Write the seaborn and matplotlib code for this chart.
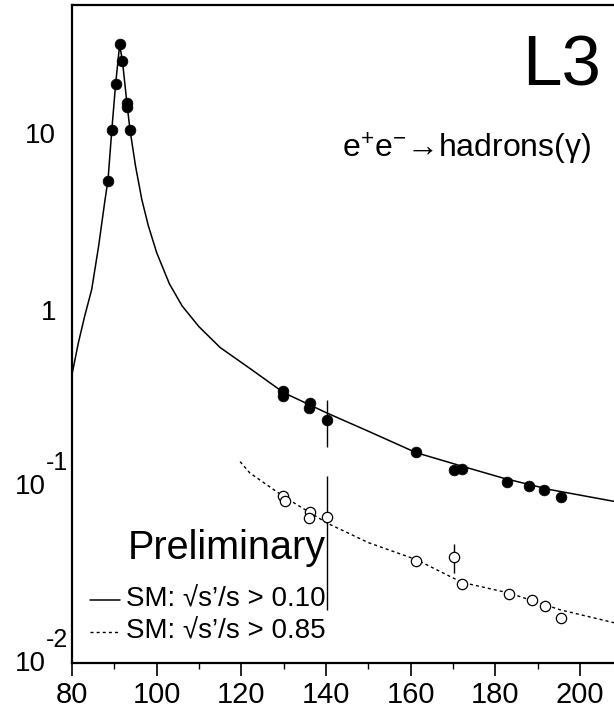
import numpy as np
import pandas as pd
import matplotlib
matplotlib.use("Agg")
import matplotlib.pyplot as plt
import matplotlib.transforms as mtrans
import seaborn as sns

# ---------------- data ----------------
# Z-peak and high-energy measurements, sqrt(s')/s > 0.10 (filled)
E_all = [88.5, 89.4, 90.3, 91.3, 91.9, 93.0, 93.0, 93.7,
         129.9, 129.9, 136.1, 135.9, 140.2, 161.3, 170.2, 172.1, 182.7, 187.9, 191.5, 195.5]
sig_all = [5.37, 10.4, 18.9, 31.9, 25.7, 14.8, 14.0, 10.4,
           0.345, 0.326, 0.296, 0.278, 0.238, 0.157, 0.123, 0.125, 0.106, 0.100, 0.0958, 0.0871]
err_all_x = [140.2, 170.2]
err_all_lo = [0.168, 0.119]
err_all_hi = [0.309, 0.127]

# sqrt(s')/s > 0.85 (open)
E_hi = [129.9, 130.2, 136.1, 135.9, 140.2, 161.3, 170.2, 172.1, 183.2, 188.6, 191.8, 195.5]
sig_hi = [0.0878, 0.0822, 0.0713, 0.0662, 0.0671, 0.0377, 0.0397, 0.0281, 0.0247, 0.0226, 0.0211, 0.0180]
err_hi_x = [140.2, 170.2]
err_hi_lo = [0.020, 0.0324]
err_hi_hi = [0.114, 0.0470]

# Standard Model curves
sm_all_E = [80.0, 81.5, 83.0, 84.65, 86.3, 87.8, 88.5, 89.4, 90.3, 91.25, 91.9, 93.0, 93.7,
            95.0, 96.5, 98.0, 100.0, 103.0, 106.0, 110.0, 115.0, 122.0, 130.0, 140.2,
            150.0, 161.3, 172.1, 182.0, 192.9, 208.0]
sm_all_sig = [0.43, 0.648, 0.92, 1.30, 2.3, 4.19, 5.4, 10.4, 18.9, 31.5, 25.7, 14.5, 10.4,
              6.5, 4.19, 3.0, 2.1, 1.4, 1.05, 0.80, 0.61, 0.465, 0.339, 0.260,
              0.205, 0.155, 0.130, 0.111, 0.0958, 0.0822]
sm_hi_E = [119.7, 122.0, 129.9, 140.2, 150.0, 161.3, 172.1, 183.2, 195.3, 208.0]
sm_hi_sig = [0.138, 0.119, 0.0878, 0.062, 0.048, 0.0385, 0.0286, 0.0249, 0.0200, 0.0169]

ytick_vals = [0.01, 0.1, 1, 10]
ytick_base = ["10", "10", "1", "10"]
ytick_exp = ["-2", "-1", "", ""]
xtick_vals = [80, 100, 120, 140, 160, 180, 200]

# ---------------- style ----------------
sns.set_style("white")
plt.rcParams["font.family"] = ["Liberation Sans", "DejaVu Sans"]
plt.rcParams["mathtext.fontset"] = "custom"
plt.rcParams["mathtext.rm"] = "Liberation Sans"
plt.rcParams["mathtext.it"] = "Liberation Sans:italic"
plt.rcParams["mathtext.bf"] = "Liberation Sans:bold"
plt.rcParams["text.color"] = "black"
plt.rcParams["xtick.color"] = "black"
plt.rcParams["ytick.color"] = "black"
plt.rcParams["xtick.labelcolor"] = "black"
plt.rcParams["ytick.labelcolor"] = "black"

fig = plt.figure(figsize=(6.14, 7.09), dpi=100)
ax = fig.add_axes([72 / 614, 1 - 663 / 709, 1 - 72 / 614, (663 - 5) / 709])

df_all = pd.DataFrame({"E": sm_all_E, "sig": sm_all_sig})
df_hi = pd.DataFrame({"E": sm_hi_E, "sig": sm_hi_sig})
sns.lineplot(data=df_all, x="E", y="sig", ax=ax, color="black", lw=1.1, sort=False)
sns.lineplot(data=df_hi, x="E", y="sig", ax=ax, color="black", lw=1.0,
             linestyle=(0, (2.2, 2.2)), sort=False)

ax.vlines(err_all_x, err_all_lo, err_all_hi, color="black", lw=1.0, zorder=3)
ax.vlines(err_hi_x, err_hi_lo, err_hi_hi, color="black", lw=1.0, zorder=3)

sns.scatterplot(x=E_all, y=sig_all, ax=ax, color="black", s=60, edgecolor="black",
                linewidth=0.5, zorder=4)
sns.scatterplot(x=E_hi, y=sig_hi, ax=ax, facecolor="white", s=55, edgecolor="black",
                linewidth=0.9, zorder=4)

ax.set_yscale("log")
ax.set_xlim(80, 208)
ax.set_ylim(0.01, 53)
ax.set_xlabel("")
ax.set_ylabel("")

ax.set_xticks(xtick_vals)
ax.set_xticks(np.arange(90, 210, 20), minor=True)
ax.set_yticks(ytick_vals)
ax.set_yticklabels([b if not e else "" for b, e in zip(ytick_base, ytick_exp)])
ax.yaxis.set_minor_locator(matplotlib.ticker.NullLocator())
ax.tick_params(axis="x", which="major", direction="out", length=9, width=1.2,
               labelsize=21, pad=4, bottom=True)
ax.tick_params(axis="x", which="minor", direction="out", length=4, width=1.0, bottom=True)
ax.tick_params(axis="y", which="major", length=0, labelsize=20, pad=11.5)

# exponent-style labels for 10^-1 and 10^-2
ytr = mtrans.blended_transform_factory(ax.transAxes, ax.transData)
for v, b, e in zip(ytick_vals, ytick_base, ytick_exp):
    if not e:
        continue
    ax.text(0, v, b, transform=mtrans.offset_copy(ytr, fig=fig, x=(46 - 72), y=-1, units="dots"),
            ha="right", va="center", fontsize=20, clip_on=False)
    ax.text(0, v, e, transform=mtrans.offset_copy(ytr, fig=fig, x=(68 - 72), y=23, units="dots"),
            ha="right", va="center", fontsize=18, clip_on=False)

for s in ["left", "bottom", "top"]:
    ax.spines[s].set_linewidth(1.6)
    ax.spines[s].set_color("black")
ax.spines["right"].set_visible(False)

ax.text((601 - 72) / 542, (663 - 67) / 658, "L3", transform=ax.transAxes, ha="right",
        va="center", fontsize=51)
ax.text((591 - 72) / 542, (663 - 158) / 658, r"e$^{+}$e$^{-}$→hadrons(γ)",
        transform=ax.transAxes, ha="right", va="baseline", fontsize=23)
fig.text(227 / 614, 1 - 548 / 709, "Preliminary", ha="center", va="center", fontsize=28.5)

# legend
fig.lines.append(plt.Line2D([90 / 614, 120 / 614], [1 - 600 / 709] * 2, color="black",
                            lw=1.1, transform=fig.transFigure))
fig.lines.append(plt.Line2D([90 / 614, 120 / 614], [1 - 632 / 709] * 2, color="black",
                            lw=1.0, linestyle=(0, (2.2, 2.2)), transform=fig.transFigure))
fig.text(126 / 614, 1 - 600 / 709, "SM: √s’/s > 0.10", ha="left", va="center", fontsize=20)
fig.text(126 / 614, 1 - 632 / 709, "SM: √s’/s > 0.85", ha="left", va="center", fontsize=20)

fig.savefig("out.png", dpi=100)
